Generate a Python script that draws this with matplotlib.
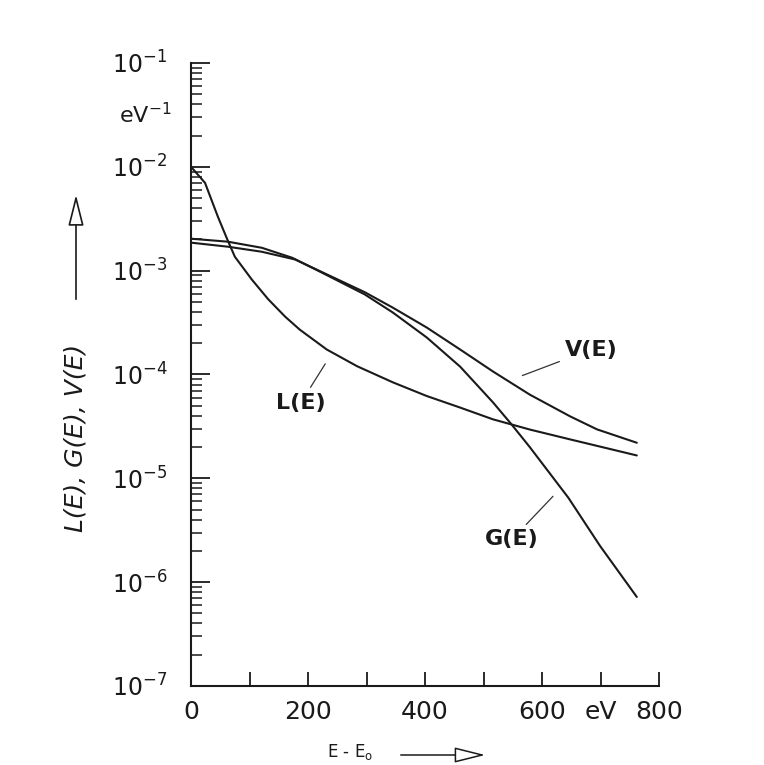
import numpy as np
import matplotlib
matplotlib.use("Agg")
import matplotlib.pyplot as plt
from matplotlib.patches import FancyArrowPatch

plt.rcParams["font.family"] = ["DejaVu Sans"]
plt.rcParams["mathtext.default"] = "regular"

# energy loss E - E0 in eV
L_x = [0, 24, 46, 62, 75, 104, 132, 161, 186, 232, 284, 345, 403, 460, 516, 579, 648, 704, 762]
L_y = [1.0e-2, 7.0e-3, 3.3e-3, 2.0e-3, 1.36e-3, 8.2e-4, 5.3e-4, 3.6e-4, 2.7e-4, 1.74e-4,
       1.2e-4, 8.4e-5, 6.2e-5, 4.8e-5, 3.7e-5, 2.95e-5, 2.37e-5, 1.99e-5, 1.66e-5]

G_x = [0, 63, 121, 173, 217, 297, 345, 403, 460, 516, 548, 579, 645, 699, 762]
G_y = [2.03e-3, 1.9e-3, 1.66e-3, 1.33e-3, 1.0e-3, 5.9e-4, 3.95e-4, 2.27e-4, 1.19e-4,
       5.4e-5, 3.3e-5, 2.0e-5, 6.5e-6, 2.24e-6, 7.2e-7]

V_x = [0, 63, 121, 178, 297, 345, 403, 460, 516, 579, 648, 694, 762]
V_y = [1.86e-3, 1.7e-3, 1.52e-3, 1.28e-3, 6.2e-4, 4.4e-4, 2.83e-4, 1.74e-4, 1.07e-4,
       6.4e-5, 3.95e-5, 2.96e-5, 2.2e-5]

x_ticks = [0, 100, 200, 300, 400, 500, 600, 700, 800]
x_ticklabels = ["0", "", "200", "", "400", "", "600", "eV", "800"]
y_ticks = [1e-7, 1e-6, 1e-5, 1e-4, 1e-3, 1e-2, 1e-1]
y_ticklabels = [r"$10^{-7}$", r"$10^{-6}$", r"$10^{-5}$", r"$10^{-4}$",
                r"$10^{-3}$", r"$10^{-2}$", r"$10^{-1}$"]

fig = plt.figure(figsize=(7.64, 7.65), dpi=100)
ax = fig.add_axes([0.25, 0.1033, 0.6126, 0.8144])

ink = "#1a1a1a"
for xs, ys in [(L_x, L_y), (G_x, G_y), (V_x, V_y)]:
    ax.plot(xs, ys, color=ink, lw=1.5, solid_capstyle="round")

ax.set_yscale("log")
ax.set_xlim(0, 800)
ax.set_ylim(1e-7, 1e-1)

for s in ["top", "right"]:
    ax.spines[s].set_visible(False)
for s in ["left", "bottom"]:
    ax.spines[s].set_linewidth(1.5)
    ax.spines[s].set_color(ink)

ax.set_xticks(x_ticks)
ax.set_xticklabels(x_ticklabels)
ax.set_yticks(y_ticks)
ax.set_yticklabels(y_ticklabels)
ax.yaxis.set_minor_locator(matplotlib.ticker.LogLocator(base=10, subs=np.arange(2, 10)))
ax.yaxis.set_minor_formatter(matplotlib.ticker.NullFormatter())

ax.tick_params(axis="both", which="both", direction="in", color=ink, labelcolor=ink)
ax.tick_params(axis="y", which="major", length=14, width=1.3, pad=17, labelsize=17)
ax.tick_params(axis="y", which="minor", length=8, width=1.1)
ax.tick_params(axis="x", which="major", length=10, width=1.3, pad=10, labelsize=18)

# curve labels with leader lines
lab_kw = dict(fontsize=16, fontweight="bold", color=ink, ha="center", va="center",
              arrowprops=dict(arrowstyle="-", color="#333333", lw=0.9))
ax.annotate("V(E)", xy=(562, 10**-4.02), xytext=(684, 10**-3.76), **lab_kw)
ax.annotate("G(E)", xy=(622, 10**-5.154), xytext=(549, 10**-5.587), **lab_kw)
ax.annotate("L(E)", xy=(232, 10**-3.875), xytext=(188, 10**-4.27), **lab_kw)

# eV^-1 unit under the top decade
fig.text(145 / 764, 1 - 115 / 765, r"$eV^{-1}$", fontsize=16, color=ink,
         ha="center", va="center")

arrow_style = "-|>,head_length=1.2,head_width=0.3"

# y axis title with hollow arrow
fig.text(76 / 764, 1 - 438 / 765, "L(E), G(E), V(E)", fontsize=18, color=ink,
         style="italic", rotation=90, ha="center", va="center")
fig.patches.append(FancyArrowPatch((76 / 764, 1 - 302 / 765), (76 / 764, 1 - 192 / 765),
                                   transform=fig.transFigure, arrowstyle=arrow_style,
                                   mutation_scale=16, lw=1.2, ec=ink, fc="white"))

# x axis title with hollow arrow
fig.text(350 / 764, 1 - 752 / 765, r"E - E$_o$", fontsize=12, color=ink,
         ha="center", va="center")
fig.patches.append(FancyArrowPatch((398 / 764, 1 - 755 / 765), (488 / 764, 1 - 755 / 765),
                                   transform=fig.transFigure, arrowstyle=arrow_style,
                                   mutation_scale=16, lw=1.1, ec=ink, fc="white"))

fig.savefig("out.png", dpi=100, facecolor="white")
